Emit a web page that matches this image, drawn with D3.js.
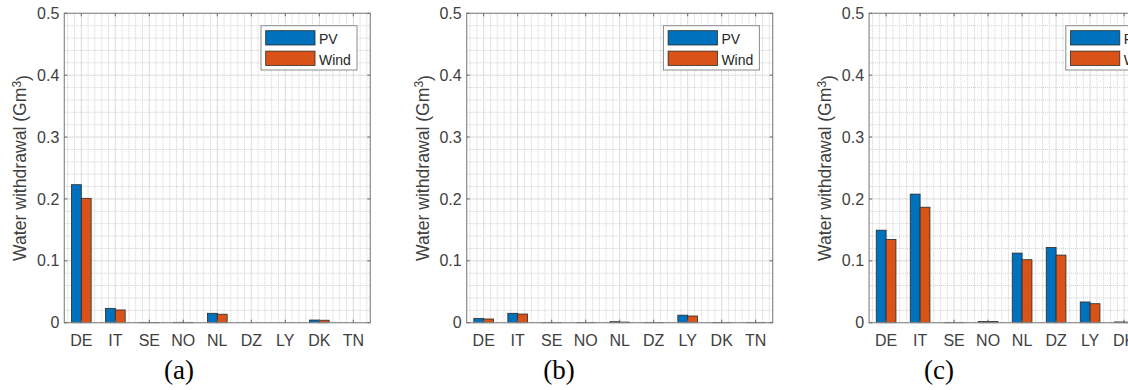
<!DOCTYPE html>
<html>
<head>
<meta charset="utf-8">
<script src="https://cdn.jsdelivr.net/npm/d3@7"></script>
<style>
  body { margin: 0; background: #fff; }
  svg { display: block; }
</style>
</head>
<body>
<div id="chart"></div>
<script>
var width = 1128, height = 390

// data (Gm3)
const countries = ["DE", "IT", "SE", "NO", "NL", "DZ", "LY", "DK", "TN"]
const series = ["PV", "Wind"]
const colors = ["#0072BD", "#D95319"]
const pvA   = [0.223, 0.0232, 0.0004, 0.0006, 0.0152, 0, 0, 0.0043, 0]
const windA = [0.201, 0.0206, 0.0004, 0.0005, 0.0137, 0, 0, 0.0040, 0]
const pvB   = [0.0068, 0.0152, 0.0004, 0.0003, 0.0016, 0.0003, 0.0122, 0.0004, 0.0003]
const windB = [0.0060, 0.0140, 0.0003, 0.0003, 0.0010, 0.0003, 0.0108, 0.0003, 0.0003]
const pvC   = [0.1495, 0.2078, 0.0005, 0.0019, 0.1125, 0.1215, 0.0335, 0.0012, 0]
const windC = [0.1345, 0.1866, 0.0004, 0.0019, 0.1018, 0.1093, 0.0307, 0.0010, 0]
const panelLabels = ["(a)", "(b)", "(c)"]
const yTicks = [0, 0.1, 0.2, 0.3, 0.4, 0.5]

const panels = [[pvA, windA], [pvB, windB], [pvC, windC]]

var svg = d3.select("#chart")
    .append("svg")
    .attr("width", width)
    .attr("height", height)

const axW = 306, axH = 309.4, axTop = 13.3
const textCol = "#404040"

const draw = (data, i) => {
    var left = 64.3 + 402.4 * i
    var g = svg.append("g").attr("transform", "translate(" + left + "," + axTop + ")")

    var x = d3.scaleLinear().domain([0.5, countries.length + 0.5]).range([0, axW])
    var y = d3.scaleLinear().domain([0, 0.5]).range([axH, 0])

    // minor grid (dotted)
    var minorX = d3.range(0.6, countries.length + 0.5, 0.2).filter(v => Math.abs(v - Math.round(v)) > 0.01)
    var minorY = d3.range(0.02, 0.5, 0.02).filter(v => Math.abs(v * 10 - Math.round(v * 10)) > 0.01)
    g.append("g").selectAll("line").data(minorX).enter().append("line")
        .attr("x1", d => x(d)).attr("x2", d => x(d)).attr("y1", 0).attr("y2", axH)
        .style("stroke", "#cfcfcf").style("stroke-dasharray", "1,1").style("stroke-width", 1)
    g.append("g").selectAll("line").data(minorY).enter().append("line")
        .attr("y1", d => y(d)).attr("y2", d => y(d)).attr("x1", 0).attr("x2", axW)
        .style("stroke", "#cfcfcf").style("stroke-dasharray", "1,1").style("stroke-width", 1)
    // major grid
    g.append("g").selectAll("line").data(d3.range(1, countries.length + 1)).enter().append("line")
        .attr("x1", d => x(d)).attr("x2", d => x(d)).attr("y1", 0).attr("y2", axH)
        .style("stroke", "#dadada").style("stroke-width", 1)
    g.append("g").selectAll("line").data(yTicks.slice(1, -1)).enter().append("line")
        .attr("y1", d => y(d)).attr("y2", d => y(d)).attr("x1", 0).attr("x2", axW)
        .style("stroke", "#dadada").style("stroke-width", 1)

    // bars
    var half = x(0.29) - x(0)
    series.forEach((s, k) => {
        g.append("g").selectAll("rect").data(data[k]).enter().append("rect")
            .attr("x", (d, j) => x(j + 1) - half + k * half)
            .attr("width", half)
            .attr("y", d => y(d))
            .attr("height", d => axH - y(d))
            .style("fill", colors[k])
            .style("stroke", "#2a2a2a")
            .style("stroke-width", 0.8)
    })

    // box + inward ticks
    g.append("rect").attr("width", axW).attr("height", axH)
        .style("fill", "none").style("stroke", "#8a8a8a").style("stroke-width", 1.2)
    var tk = 3
    g.append("g").selectAll("path").data(d3.range(1, countries.length + 1)).enter().append("path")
        .attr("d", d => "M" + x(d) + ",0v" + tk + "M" + x(d) + "," + axH + "v" + (-tk))
        .style("stroke", "#666").style("stroke-width", 1)
    g.append("g").selectAll("path").data(yTicks).enter().append("path")
        .attr("d", d => "M0," + y(d) + "h" + tk + "M" + axW + "," + y(d) + "h" + (-tk))
        .style("stroke", "#666").style("stroke-width", 1)

    // tick labels
    g.append("g").selectAll("text").data(yTicks).enter().append("text")
        .attr("x", -5).attr("y", d => y(d)).attr("dy", "0.35em")
        .style("text-anchor", "end")
        .style("font-family", "Liberation Sans, Arial, sans-serif").style("font-size", "16px")
        .style("fill", textCol)
        .text(d => d === 0 ? "0" : d.toFixed(1))
    g.append("g").selectAll("text").data(countries).enter().append("text")
        .attr("x", (d, j) => x(j + 1)).attr("y", 346 - axTop)
        .style("text-anchor", "middle")
        .style("font-family", "Liberation Sans, Arial, sans-serif").style("font-size", "16px")
        .style("fill", textCol)
        .text(d => d)

    // y label
    var yl = g.append("text")
        .attr("transform", "translate(" + (26.3 - 64.3) + "," + (axH / 2) + ") rotate(-90)")
        .style("text-anchor", "middle")
        .style("font-family", "Liberation Sans, Arial, sans-serif").style("font-size", "17.6px")
        .style("fill", textCol)
    yl.append("tspan").text("Water withdrawal (Gm")
    yl.append("tspan").attr("dy", "-0.45em").style("font-size", "12px").text("3")
    yl.append("tspan").attr("dy", "0.45em").text(")")

    // legend
    var lg = g.append("g").attr("transform", "translate(196.7,12.4)")
    lg.append("rect").attr("width", 96).attr("height", 44.3)
        .style("fill", "#fff").style("stroke", "#8a8a8a").style("stroke-width", 1)
    series.forEach((s, k) => {
        lg.append("rect").attr("x", 4.7).attr("y", 5 + k * 20.4).attr("width", 49.3).attr("height", 14.3)
            .style("fill", colors[k]).style("stroke", "#2a2a2a").style("stroke-width", 0.8)
        lg.append("text").attr("x", 58).attr("y", 18.6 + k * 20.6)
            .style("font-family", "Liberation Sans, Arial, sans-serif").style("font-size", "14px")
            .style("fill", "#262626")
            .text(s)
    })

    // panel label
    svg.append("text")
        .attr("x", 179 + 380 * i).attr("y", 379)
        .style("text-anchor", "middle")
        .style("font-family", "Liberation Serif, Times New Roman, serif").style("font-size", "27px")
        .style("fill", "#000")
        .text(panelLabels[i])
}

panels.forEach((p, i) => draw(p, i))
</script>
</body>
</html>
